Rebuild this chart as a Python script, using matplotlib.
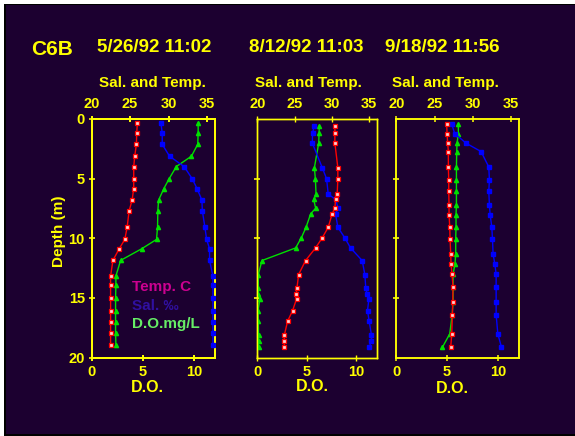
import matplotlib
matplotlib.use("Agg")
import matplotlib.pyplot as plt
from matplotlib.patches import Rectangle

plt.rcParams['font.family'] = ['Liberation Sans', 'DejaVu Sans']
plt.rcParams['font.weight'] = 'bold'

# ---------------- data ----------------
site = "C6B"
dates = ["5/26/92 11:02", "8/12/92 11:03", "9/18/92 11:56"]
top_ticks = [20, 25, 30, 35]
do_ticks = [0, 5, 10]
depth_ticks = [0, 5, 10, 15, 20]

depth1 = [0.33, 1.17, 2.12, 3.12, 3.99, 4.99, 5.83, 6.81, 7.70, 9.09,
          10.10, 10.88, 11.86, 13.17, 13.95, 14.98, 16.07, 16.99, 17.94, 18.94]
temp1 = [25.95, 25.86, 25.82, 25.6, 25.47, 25.47, 25.47, 25.26, 24.87, 24.61,
         24.31, 23.58, 22.76, 22.46, 22.46, 22.46, 22.46, 22.46, 22.46, 22.46]
sal1 = [29.01, 29.18, 29.18, 30.13, 32.03, 33.06, 33.71, 34.35, 34.40, 34.74,
        34.96, 35.34, 35.34, 35.78, 35.78, 35.78, 35.78, 35.78, 35.78, 35.78]
do1 = [10.43, 10.43, 10.39, 9.77, 8.29, 7.6, 7.07, 6.55, 6.48, 6.45,
       6.35, 4.9, 2.83, 2.37, 2.37, 2.34, 2.34, 2.34, 2.34, 2.37]

depth2 = [0.58, 1.20, 2.01, 4.09, 5.01, 6.30, 6.74, 7.49, 7.94, 9.08, 9.97,
          10.81, 11.87, 13.04, 14.21, 14.68, 15.07, 16.07, 16.96, 18.13, 18.58, 19.16]
temp2 = [30.4, 30.4, 30.4, 30.8, 30.8, 30.71, 30.49, 30.4, 30.04, 29.51, 28.7,
         27.81, 26.47, 25.54, 25.31, 25.22, 25.27, 24.73, 24.06, 23.62, 23.62, 23.62]
sal2 = [27.63, 27.41, 27.37, 28.71, 29.29, 29.51, 30.49, 30.85, 30.49, 30.8, 31.74,
        32.5, 34.06, 34.42, 34.55, 34.73, 34.96, 34.78, 35.0, 35.31, 35.31, 35.0]
do2 = [6.26, 6.23, 6.2, 5.76, 5.86, 5.93, 5.69, 5.89, 5.39, 4.92, 4.44,
       3.87, 0.47, 0.1, 0.1, 0.1, 0.27, 0.07, 0.1, 0.13, 0.13, 0.13]

depth3 = [0.42, 1.22, 2.03, 2.73, 4.03, 5.12, 6.04, 7.23, 8.01, 9.04,
          10.04, 11.32, 12.13, 13.02, 14.05, 15.35, 16.41, 18.02, 19.14]
temp3 = [26.59, 26.64, 26.72, 26.81, 26.81, 26.86, 26.86, 26.9, 26.9, 26.99,
         27.03, 27.12, 27.16, 27.29, 27.42, 27.38, 27.34, 27.25, 27.12]
sal3 = [27.25, 27.64, 29.13, 31.09, 32.1, 32.18, 32.1, 32.18, 32.27, 32.49,
        32.58, 32.66, 32.88, 33.06, 33.06, 33.06, 33.06, 33.28, 33.76]
do3 = [6.11, 6.11, 5.98, 5.95, 5.92, 5.92, 5.92, 5.92, 5.88, 5.88,
       5.85, 5.85, 5.78, 5.59, 5.59, 5.59, 5.5, 5.26, 4.54]

panels = [(depth1, temp1, sal1, do1), (depth2, temp2, sal2, do2), (depth3, temp3, sal3, do3)]
legend_labels = ["Temp. C", "Sal. \u2030", "D.O.mg/L"]

# ---------------- styling ----------------
W, H = 575, 436
BG = '#1c0030'
YEL = '#ffff00'
RED = '#ff0000'
BLUE = '#0000ff'
GREEN = '#00e000'

fig = plt.figure(figsize=(W / 100, H / 100), dpi=100)
fig.patch.set_facecolor('white')
fig.add_artist(Rectangle((4 / W, 0), 1, 1 - 4 / H, transform=fig.transFigure,
                         facecolor='black', edgecolor='none', zorder=-3))
fig.add_artist(Rectangle((5.5 / W, 2.5 / H), 1, (H - 8) / H, transform=fig.transFigure,
                         facecolor=BG, edgecolor='none', zorder=-2))

ax_px = [(91.7, 215.0), (257.3, 377.0), (396.3, 519.0)]
top_px, bot_px = 119.0, 357.5
spine_w = [1.4, 1.0, 1.1]

def fx(x):
    return x / W

def fy(y):
    return 1 - y / H

for i, ((l, r), (dep, tmp, sal, do)) in enumerate(zip(ax_px, panels)):
    ax = fig.add_axes([fx(l), fy(bot_px), (r - l) / W, (bot_px - top_px) / H])
    ax.set_facecolor('none')
    ax.set_xlim(0, 12.08)
    ax.set_ylim(20, 0)
    ax.set_xticks(do_ticks)
    ax.set_yticks(depth_ticks)
    ax.tick_params(axis='x', colors=YEL, labelsize=10.5, direction='inout', length=5,
                   width=spine_w[i], pad=3)
    ax.tick_params(axis='y', colors=YEL, labelsize=10.5, direction='inout', length=4,
                   width=1.2, pad=3)
    if i > 0:
        ax.set_yticklabels([])
        ax.set_yticks([5, 10, 15])
    for s in ax.spines.values():
        s.set_color(YEL)
        s.set_linewidth(spine_w[i])
    ax.plot(do, dep, color=GREEN, lw=1, marker='^', ms=3, mfc=GREEN, mec=GREEN, zorder=3)

    ax2 = ax.twiny()
    ax2.set_facecolor('none')
    ax2.set_xlim(20, 36.05)
    ax2.set_ylim(20, 0)
    ax2.set_xticks(top_ticks)
    ax2.tick_params(axis='x', colors=YEL, labelsize=10.5, direction='inout', length=5,
                    width=spine_w[i], pad=3)
    for s in ax2.spines.values():
        s.set_color(YEL)
        s.set_linewidth(spine_w[i])
    ax2.plot(sal, dep, color=BLUE, lw=1, marker='s', ms=3.3, mfc=BLUE, mec=BLUE, zorder=3)
    ax2.plot(tmp, dep, color=RED, lw=1, marker='s', ms=3.0, mfc='#ffd0d0', mec=RED,
             mew=0.9, zorder=4)

# texts
fig.text(fx(52.5), fy(49.8), site, color=YEL, fontsize=15, fontweight='bold',
         ha='center', va='center')
title_x = [154.5, 306.3, 442.0]
sub_x = [152.0, 308.7, 445.7]
do_lab_x = [147.8, 312.5, 452.8]
do_lab_y = [387.5, 386.7, 388.8]
for i in range(3):
    fig.text(fx(title_x[i]), fy(47.5), dates[i], color=YEL, fontsize=13.5,
             fontweight='bold', ha='center', va='center')
    fig.text(fx(sub_x[i]), fy(83.5), "Sal. and Temp.", color=YEL, fontsize=11,
             fontweight='bold', ha='center', va='center')
    fig.text(fx(do_lab_x[i]), fy(do_lab_y[i]), "D.O.", color=YEL, fontsize=11.5,
             fontweight='bold', ha='center', va='center')
fig.text(fx(59), fy(230.8), "Depth (m)", color=YEL, fontsize=11, fontweight='bold',
         rotation=90, ha='center', va='center')

leg_colors = ['#cc0090', '#3010a0', '#66ee66']
leg_y = [287.2, 305.8, 324.2]
for lab, c, yy in zip(legend_labels, leg_colors, leg_y):
    fig.text(fx(132.3), fy(yy), lab, color=c, fontsize=11, fontweight='bold',
             ha='left', va='center')

fig.savefig('out.png', dpi=100, facecolor=fig.get_facecolor())
